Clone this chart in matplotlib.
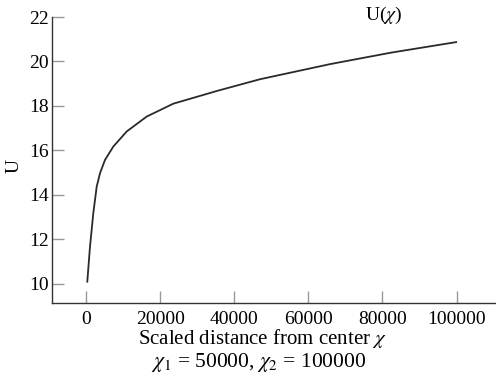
import matplotlib
matplotlib.use('Agg')
import matplotlib.pyplot as plt

plt.rcParams['font.family'] = ['Liberation Serif', 'DejaVu Serif']
plt.rcParams['mathtext.fontset'] = 'stix'

# curve
chi = [350, 1080, 1970, 2890, 3780, 5130, 7370, 10990, 16390, 23570,
       35500, 46980, 65880, 82460, 99900]
u = [10.09, 11.67, 13.17, 14.37, 14.97, 15.57, 16.17, 16.85, 17.52, 18.10,
     18.68, 19.20, 19.88, 20.40, 20.87]

x_ticks = [0, 20000, 40000, 60000, 80000, 100000]
y_ticks = [10, 12, 14, 16, 18, 20, 22]

W, H = 496, 381
fig = plt.figure(figsize=(W / 100, H / 100), dpi=100)
ax = fig.add_axes([52 / W, 1 - 303 / H, 1 - 52 / W, (303 - 17) / H])

ax.plot(chi, u, color='#2a2a2a', linewidth=1.3)

ax.set_xlim(-9177, 110660)
ax.set_ylim(9.13, 22)
ax.set_xticks(x_ticks)
ax.set_yticks(y_ticks)
ax.set_xticklabels([str(t) for t in x_ticks])

for side in ['top', 'right']:
    ax.spines[side].set_visible(False)
for side in ['left', 'bottom']:
    ax.spines[side].set_color('#333333')
    ax.spines[side].set_linewidth(1.0)

ax.tick_params(axis='y', direction='in', length=8.5, width=1, color='#999999',
               labelsize=14, pad=2)
ax.tick_params(axis='x', direction='in', length=9, width=1, color='#999999',
               labelsize=14, pad=6)

fig.text(14 / W, 1 - 166 / H, 'U', fontsize=14, rotation=90,
         ha='center', va='center')
fig.text(384 / W, 1 - 15 / H, r'U($\chi$)', fontsize=14,
         ha='center', va='center')

fig.text(262 / W, 1 - 339 / H, r'Scaled distance from center $\chi$',
         fontsize=15, ha='center', va='center')
fig.text(259 / W, 1 - 362 / H, r'$\chi_1$ = 50000, $\chi_2$ = 100000',
         fontsize=15.5, ha='center', va='center')

fig.savefig('out.png', dpi=100)
